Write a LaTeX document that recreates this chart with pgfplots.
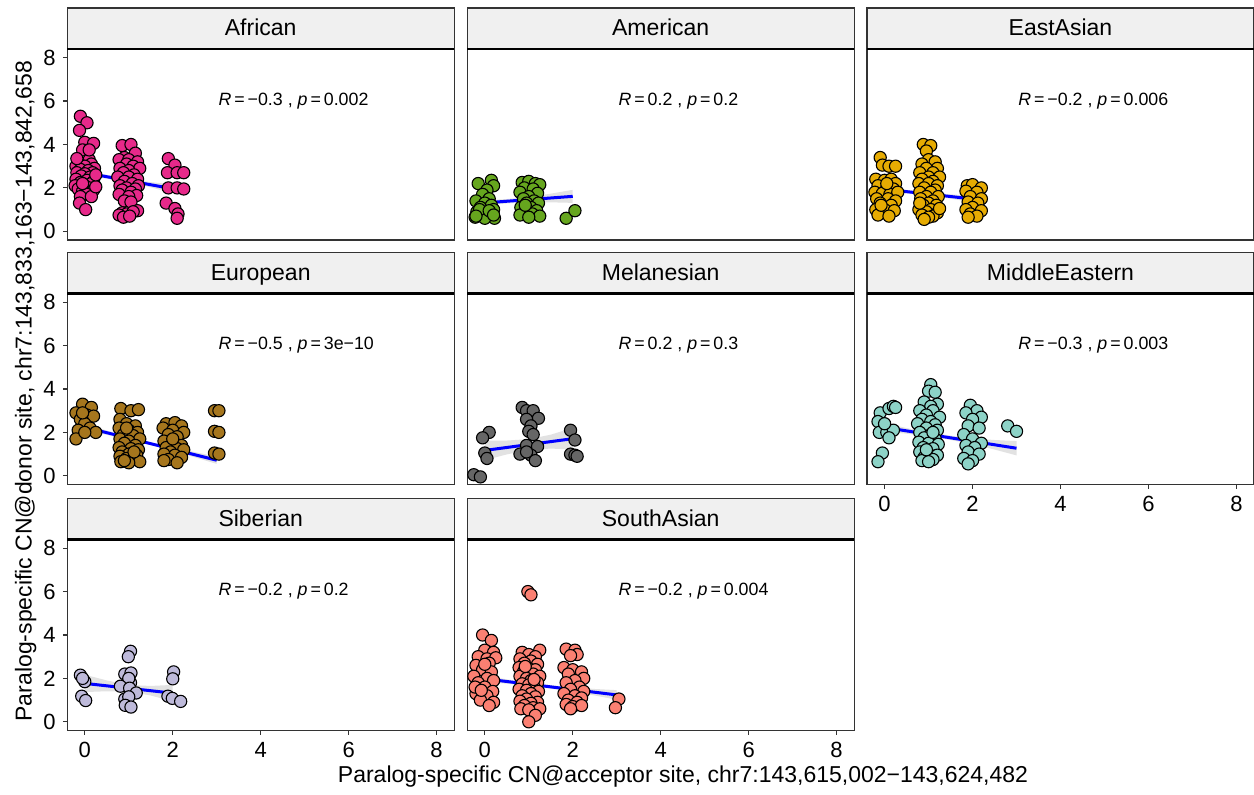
\documentclass[border=0pt]{standalone}
\usepackage{fontspec}
\setmainfont{Liberation Sans}
\usepackage{pgfplots}
\pgfplotsset{compat=1.18}
\definecolor{cAf}{HTML}{E7298A}
\definecolor{cAm}{HTML}{66A61E}
\definecolor{cEA}{HTML}{E6AB02}
\definecolor{cEu}{HTML}{A6761D}
\definecolor{cMe}{HTML}{666666}
\definecolor{cME}{HTML}{8DD3C7}
\definecolor{cSi}{HTML}{BEBADA}
\definecolor{cSA}{HTML}{FB8072}
\definecolor{stripfill}{HTML}{F0F0F0}
\definecolor{framecol}{HTML}{333333}
\definecolor{bandcol}{HTML}{E2E2E2}
\newcommand\anfont{\fontsize{8.9}{10}\selectfont}
\newcommand\stripfont{\fontsize{11.5}{13}\selectfont}
\newcommand\strip[2]{%
  \draw[fill=stripfill,draw=framecol,line width=0.6pt] (#1.north west) rectangle ([yshift=20.5pt]#1.north east);
  \node[font=\stripfont,text height=0.72em,text depth=0pt,inner sep=0pt] at ([yshift=10.25pt]#1.north) {#2};
  \draw[black,line width=1.1pt] (#1.north west) -- (#1.north east);}
\pgfplotsset{
 panel/.style={anchor=north west, scale only axis, width=193.5pt, height=95.5pt,
  xmin=-0.4, xmax=8.4, ymin=-0.4, ymax=8.4,
  xtick={0,2,4,6,8}, ytick={0,2,4,6,8},
  xtick pos=bottom, ytick pos=left,
  tick align=outside, major tick length=2.2pt,
  axis line style={framecol, line width=0.6pt},
  tick style={framecol, line width=0.6pt},
  tick label style={font=\fontsize{11}{13}\selectfont, black},
  /pgf/number format/assume math mode=true,
 },
 noxt/.style={xtick=\empty},
 noyt/.style={ytick=\empty},
 pts/.style={only marks, mark=*, mark size=3.05pt, mark options={fill=#1, draw=black, line width=0.55pt}},
 band/.style={fill=bandcol, draw=none},
 fit/.style={blue, line width=1.5pt},
}
\begin{document}
\begin{tikzpicture}
\useasboundingbox (0,0) rectangle (627pt,-397.5pt);
% ---------------- African
\begin{axis}[panel, noxt, name=p1, at={(33.6pt,-24.5pt)}]
\addplot[band] coordinates {(0,2.82) (0.5,2.605) (1,2.41) (1.5,2.265) (2,2.16) (2,1.76) (1.5,2.025) (1,2.25) (0.5,2.425) (0,2.58)} -- cycle;
\addplot[fit] coordinates {(0,2.70) (2,1.96)};
\addplot[pts=cAf] coordinates {
(-0.1,5.3) (0.05,5.0) (-0.12,4.65) (0.0,4.1) (0.2,4.05) (-0.05,3.75) (0.1,3.3) (-0.15,3.2) (0.15,3.1) (-0.2,3.0)
(0.0,3.0) (0.22,2.9) (-0.1,2.85) (0.08,2.8) (-0.18,2.7) (0.18,2.7) (0.0,2.65) (-0.08,2.55) (0.12,2.5) (-0.2,2.4)
(0.05,2.35) (0.2,2.3) (-0.1,2.25) (0.15,2.2) (-0.22,2.1) (0.0,2.1) (0.1,2.0) (-0.15,1.95) (0.2,1.9) (-0.05,1.85)
(0.05,1.7) (-0.1,1.6) (0.15,1.6) (-0.12,1.3) (0.02,1.0) (0.25,2.05) (-0.18,3.35) (0.1,3.75) (0.25,2.6) (-0.05,2.2)
(0.85,3.95) (1.05,4.0) (1.15,3.6) (0.9,3.4) (0.78,3.3) (1.0,3.3) (1.2,3.2) (0.95,3.1) (1.1,3.0) (0.8,2.9)
(1.25,2.9) (1.0,2.8) (0.88,2.7) (1.12,2.6) (0.75,2.5) (1.0,2.5) (1.2,2.4) (0.9,2.3) (1.08,2.2) (0.8,2.1)
(1.22,2.1) (0.95,2.0) (1.15,1.95) (0.85,1.9) (1.05,1.8) (0.78,1.7) (1.18,1.65) (1.0,1.6) (0.9,1.4) (1.05,1.35)
(1.2,0.95) (0.85,0.85) (0.95,0.8) (0.78,0.75) (1.1,0.9) (0.88,0.65) (1.02,0.7)
(1.9,3.35) (2.05,3.05) (1.88,2.7) (2.1,2.7) (2.25,2.7) (1.9,2.0) (2.1,2.0) (2.25,1.95) (1.85,1.3) (2.05,1.05) (2.12,0.8) (2.1,0.6)};
\node[anchor=west,font=\anfont] at (axis cs:2.88,6) {\textit{R}\,=\,−0.3 , \textit{p}\,=\,0.002};
\end{axis}
% ---------------- American
\begin{axis}[panel, noxt, noyt, name=p2, at={(233.6pt,-24.5pt)}]
\addplot[band] coordinates {(0,1.43) (0.5,1.485) (1,1.58) (1.5,1.735) (2,1.91) (2,1.31) (1.5,1.335) (1,1.34) (0.5,1.285) (0,1.19)} -- cycle;
\addplot[fit] coordinates {(0,1.31) (2,1.61)};
\addplot[pts=cAm] coordinates {
(-0.15,2.2) (0.15,2.35) (0.2,2.1) (0.05,1.9) (-0.05,1.7) (0.1,1.5) (-0.2,1.4) (0.0,1.3) (0.15,1.2) (-0.1,1.1)
(0.2,1.0) (-0.18,0.9) (0.05,0.85) (0.12,0.75) (-0.08,0.7) (-0.22,0.65) (0.22,0.6) (0.0,0.6) (-0.12,1.0) (0.1,0.95)
(-0.2,0.7) (0.2,0.75)
(0.85,2.25) (1.0,2.3) (1.15,2.2) (1.25,2.15) (0.9,2.0) (1.1,1.95) (0.8,1.8) (1.2,1.75) (1.0,1.6) (0.88,1.5)
(1.12,1.4) (0.95,1.3) (1.22,1.3) (0.82,1.1) (1.05,1.1) (1.18,0.95) (0.9,0.85) (1.08,0.8) (0.8,0.75) (1.25,0.7)
(1.0,0.65) (0.92,1.2)
(1.85,0.6) (2.05,0.95)};
\node[anchor=west,font=\anfont] at (axis cs:2.88,6) {\textit{R}\,=\,0.2 , \textit{p}\,=\,0.2};
\end{axis}
% ---------------- EastAsian
\begin{axis}[panel, noxt, noyt, name=p3, at={(433.5pt,-24.5pt)}]
\addplot[band] coordinates {(0,2.06) (0.5,1.9075) (1,1.785) (1.5,1.7025) (2,1.64) (2,1.34) (1.5,1.5025) (1,1.645) (0.5,1.7475) (0,1.82)} -- cycle;
\addplot[fit] coordinates {(0,1.94) (2,1.49)};
\addplot[pts=cEA] coordinates {
(-0.1,3.4) (-0.05,3.05) (0.1,3.0) (0.25,3.0) (-0.2,2.4) (0.0,2.35) (0.15,2.4) (0.25,2.2) (-0.15,2.1) (0.05,2.0)
(0.2,1.95) (-0.22,1.8) (-0.05,1.75) (0.12,1.7) (0.3,1.8) (-0.18,1.5) (0.08,1.5) (0.25,1.4) (-0.1,1.3) (0.15,1.2)
(-0.2,1.0) (0.0,1.0) (0.22,0.95) (-0.15,0.75) (0.1,0.7) (0.05,2.2) (-0.08,1.2)
(0.88,4.0) (1.05,3.95) (0.95,3.7) (1.0,3.3) (1.15,3.2) (0.85,3.1) (1.2,2.9) (0.95,2.9) (0.8,2.7) (1.1,2.7)
(1.0,2.5) (1.25,2.5) (0.85,2.4) (1.1,2.3) (0.78,2.2) (1.0,2.2) (1.2,2.1) (0.9,2.0) (1.15,1.9) (0.8,1.8)
(1.05,1.8) (0.95,1.6) (1.22,1.6) (0.82,1.5) (1.1,1.4) (1.0,1.3) (0.88,1.2) (1.18,1.2) (0.78,1.0) (1.05,1.0)
(0.95,0.9) (1.2,0.85) (0.85,0.75) (1.1,0.7) (1.0,0.65) (0.9,0.55) (1.25,1.05) (0.8,1.3)
(1.88,2.1) (2.0,2.15) (2.2,2.0) (1.85,1.85) (2.1,1.8) (1.95,1.6) (2.2,1.5) (1.9,1.35) (2.12,1.3) (2.0,1.1)
(1.85,1.0) (2.2,0.95) (1.95,0.8) (2.1,0.7) (1.9,0.65)};
\node[anchor=west,font=\anfont] at (axis cs:2.88,6) {\textit{R}\,=\,−0.2 , \textit{p}\,=\,0.006};
\end{axis}
% ---------------- European
\begin{axis}[panel, noxt, name=p4, at={(33.6pt,-146.75pt)}]
\addplot[band] coordinates {(0,2.39) (0.5,2.0865) (1,1.803) (1.5,1.5395) (2,1.306) (2.5,1.0925) (3,0.889) (3,0.549) (2.5,0.8525) (2,1.146) (1.5,1.4195) (1,1.663) (0.5,1.8865) (0,2.09)} -- cycle;
\addplot[fit] coordinates {(0,2.24) (3,0.719)};
\addplot[pts=cEu] coordinates {
(-0.05,3.3) (0.15,3.15) (-0.2,2.9) (0.05,2.8) (0.2,2.75) (-0.1,2.6) (0.0,2.4) (0.12,2.2) (-0.15,2.1) (0.25,2.0)
(-0.2,1.7) (0.0,2.0) (-0.05,2.9)
(0.82,3.1) (1.05,3.0) (1.22,3.05) (0.8,2.6) (0.95,2.4) (1.15,2.3) (0.78,2.2) (1.0,2.1) (1.2,2.0) (0.88,1.9)
(1.1,1.85) (0.8,1.7) (1.25,1.7) (1.0,1.6) (0.9,1.5) (1.15,1.4) (0.78,1.3) (1.05,1.25) (1.22,1.2) (0.85,1.1)
(1.0,1.0) (1.18,0.95) (0.8,0.9) (0.95,0.8) (1.1,0.75) (0.82,0.65) (1.25,0.65) (1.0,0.6) (0.9,0.7) (1.12,1.1) (0.95,2.2)
(1.85,2.4) (2.05,2.45) (2.2,2.3) (1.78,2.2) (2.0,2.1) (2.25,2.0) (1.9,1.9) (2.1,1.8) (1.8,1.6) (2.0,1.5)
(2.2,1.4) (1.85,1.3) (2.1,1.25) (1.95,1.1) (2.25,1.2) (1.8,1.0) (2.05,0.95) (2.2,0.85) (1.9,0.75) (2.1,0.6)
(1.8,0.7) (2.0,1.7)
(2.95,3.0) (3.05,3.0) (2.95,2.05) (3.05,2.0) (2.95,1.05) (3.05,1.0)};
\node[anchor=west,font=\anfont] at (axis cs:2.88,6) {\textit{R}\,=\,−0.5 , \textit{p}\,=\,3e−10};
\end{axis}
% ---------------- Melanesian
\begin{axis}[panel, noxt, noyt, name=p5, at={(233.6pt,-146.75pt)}]
\addplot[band] coordinates {(0,1.62) (0.5,1.625) (1,1.69) (1.5,1.895) (2,2.21) (2,1.21) (1.5,1.255) (1,1.19) (0.5,0.985) (0,0.72)} -- cycle;
\addplot[fit] coordinates {(0,1.17) (2,1.71)};
\addplot[pts=cMe] coordinates {
(0.1,2.0) (-0.05,1.75) (0.0,1.05) (0.05,0.8) (-0.25,0.05) (-0.1,-0.05)
(0.85,3.15) (0.95,3.0) (1.1,3.0) (1.22,2.65) (0.95,2.6) (1.05,2.3) (1.0,2.05) (1.1,1.9) (0.95,1.4) (1.2,1.35)
(0.8,1.0) (1.05,0.95) (1.15,0.7) (0.95,1.1)
(1.95,2.1) (2.05,1.65) (1.95,1.0) (2.05,0.95) (2.1,0.9)};
\node[anchor=west,font=\anfont] at (axis cs:2.88,6) {\textit{R}\,=\,0.2 , \textit{p}\,=\,0.3};
\end{axis}
% ---------------- MiddleEastern
\begin{axis}[panel, noyt, name=p6, at={(433.5pt,-146.75pt)}]
\addplot[band] coordinates {(0,2.43) (0.5,2.2) (1,2.01) (1.5,1.85) (2,1.72) (2.5,1.65) (3,1.6) (3,0.94) (2.5,1.21) (2,1.46) (1.5,1.65) (1,1.81) (0.5,1.94) (0,2.03)} -- cycle;
\addplot[fit] coordinates {(0,2.23) (3,1.27)};
\addplot[pts=cME] coordinates {
(-0.1,2.9) (0.1,3.1) (0.2,3.2) (0.25,3.15) (-0.15,2.5) (0.0,2.3) (-0.12,2.0) (0.05,2.0) (0.2,2.1) (0.1,1.75)
(-0.05,1.05) (-0.15,0.65) (0.0,2.4)
(1.05,4.2) (1.0,3.9) (1.15,3.85) (0.9,3.4) (1.2,3.3) (1.05,3.2) (0.8,3.0) (1.1,3.0) (0.95,2.8) (1.25,2.7)
(0.85,2.6) (1.05,2.5) (0.75,2.4) (1.15,2.35) (0.95,2.2) (1.2,2.1) (0.8,2.0) (1.05,1.9) (0.9,1.75) (1.15,1.7)
(0.78,1.55) (1.0,1.5) (1.22,1.45) (0.88,1.3) (1.1,1.25) (0.8,1.1) (1.0,1.0) (1.2,0.95) (0.9,0.85) (1.1,0.75)
(0.85,0.7) (1.0,0.65) (0.95,1.2) (1.1,2.0)
(1.95,3.25) (2.1,3.0) (1.85,2.9) (2.2,2.7) (2.0,2.6) (1.9,2.3) (2.15,2.2) (1.8,1.9) (2.0,1.7) (2.2,1.5)
(1.85,1.4) (2.05,1.3) (1.9,1.1) (2.15,1.0) (1.8,0.8) (2.0,0.7) (1.9,0.55)
(2.8,2.3) (3.0,2.05)};
\node[anchor=west,font=\anfont] at (axis cs:2.88,6) {\textit{R}\,=\,−0.3 , \textit{p}\,=\,0.003};
\end{axis}
% ---------------- Siberian
\begin{axis}[panel, name=p7, at={(33.6pt,-269.75pt)}]
\addplot[band] coordinates {(0,2.17) (0.5,1.9075) (1,1.695) (1.5,1.6525) (2,1.70) (2,0.94) (1.5,1.2125) (1,1.395) (0.5,1.4075) (0,1.37)} -- cycle;
\addplot[fit] coordinates {(0,1.77) (2,1.32)};
\addplot[pts=cSi] coordinates {
(-0.1,2.15) (0.0,1.85) (-0.05,2.0) (-0.07,1.18) (0.02,0.98)
(1.04,3.25) (0.99,3.0) (0.91,2.2) (1.05,2.25) (1.04,1.8) (1.0,2.0) (0.81,1.64) (1.02,1.55) (1.17,1.33) (0.91,1.05)
(1.0,1.15) (0.92,0.76) (1.05,0.68)
(2.02,2.3) (2.0,1.98) (1.89,1.18) (1.99,1.08) (2.18,0.94)};
\node[anchor=west,font=\anfont] at (axis cs:2.88,6) {\textit{R}\,=\,−0.2 , \textit{p}\,=\,0.2};
\end{axis}
% ---------------- SouthAsian
\begin{axis}[panel, noyt, name=p8, at={(233.6pt,-269.75pt)}]
\addplot[band] coordinates {(0,2.13) (0.5,1.9565) (1,1.813) (1.5,1.6895) (2,1.586) (2.5,1.5125) (3,1.459) (3,1.019) (2.5,1.2125) (2,1.386) (1.5,1.5295) (1,1.653) (0.5,1.7565) (0,1.83)} -- cycle;
\addplot[fit] coordinates {(0,1.98) (3,1.239)};
\addplot[pts=cSA] coordinates {
(-0.05,4.0) (0.15,3.75) (0.0,3.3) (0.2,3.2) (-0.15,3.0) (0.05,2.9) (0.25,2.95) (-0.2,2.6) (0.1,2.7) (-0.05,2.4)
(0.15,2.3) (-0.25,2.1) (0.05,2.0) (0.2,1.9) (-0.15,1.8) (0.0,1.6) (0.18,1.4) (-0.2,1.3) (0.05,1.2) (-0.1,1.0)
(0.2,0.9) (0.1,0.75) (-0.22,1.6) (0.0,2.65) (-0.08,1.45)
(0.98,6.0) (1.05,5.85) (0.85,3.2) (1.25,3.3) (1.0,3.1) (1.15,3.0) (0.8,2.9) (1.05,2.8) (0.9,2.7) (1.2,2.65)
(0.78,2.5) (1.0,2.45) (1.15,2.4) (0.88,2.3) (1.1,2.2) (0.8,2.1) (1.25,2.1) (0.95,2.0) (1.05,1.9) (1.2,1.8)
(0.85,1.75) (1.0,1.7) (1.12,1.6) (0.78,1.5) (0.95,1.45) (1.22,1.4) (1.05,1.3) (0.85,1.2) (1.15,1.15) (0.95,1.05)
(0.8,0.95) (1.2,0.9) (1.05,0.85) (0.9,0.75) (1.1,0.65) (1.25,0.6) (0.82,0.6) (1.0,0.55) (1.15,0.3) (1.0,0.0)
(0.92,2.55) (1.12,1.95)
(1.85,3.35) (2.05,3.3) (2.1,3.1) (1.95,3.05) (1.8,2.5) (2.0,2.4) (2.2,2.3) (1.9,2.2) (2.25,2.0) (2.05,1.9)
(1.85,1.8) (2.15,1.6) (1.95,1.5) (2.25,1.4) (1.8,1.3) (2.05,1.2) (2.2,1.1) (1.9,1.0) (2.1,0.9) (1.85,0.8)
(2.0,0.7) (2.2,0.75) (1.95,0.6)
(3.05,1.05) (2.97,0.65)};
\node[anchor=west,font=\anfont] at (axis cs:2.88,6) {\textit{R}\,=\,−0.2 , \textit{p}\,=\,0.004};
\end{axis}
\strip{p1}{African}
\strip{p2}{American}
\strip{p3}{EastAsian}
\strip{p4}{European}
\strip{p5}{Melanesian}
\strip{p6}{MiddleEastern}
\strip{p7}{Siberian}
\strip{p8}{SouthAsian}
\node[font=\stripfont,anchor=base] at (341.5pt,-391.5pt) {Paralog-specific CN@acceptor site, chr7:143,615,002−143,624,482};
\node[font=\stripfont,anchor=base,rotate=90] at (15.85pt,-195.5pt) {Paralog-specific CN@donor site, chr7:143,833,163−143,842,658};
\end{tikzpicture}
\end{document}
